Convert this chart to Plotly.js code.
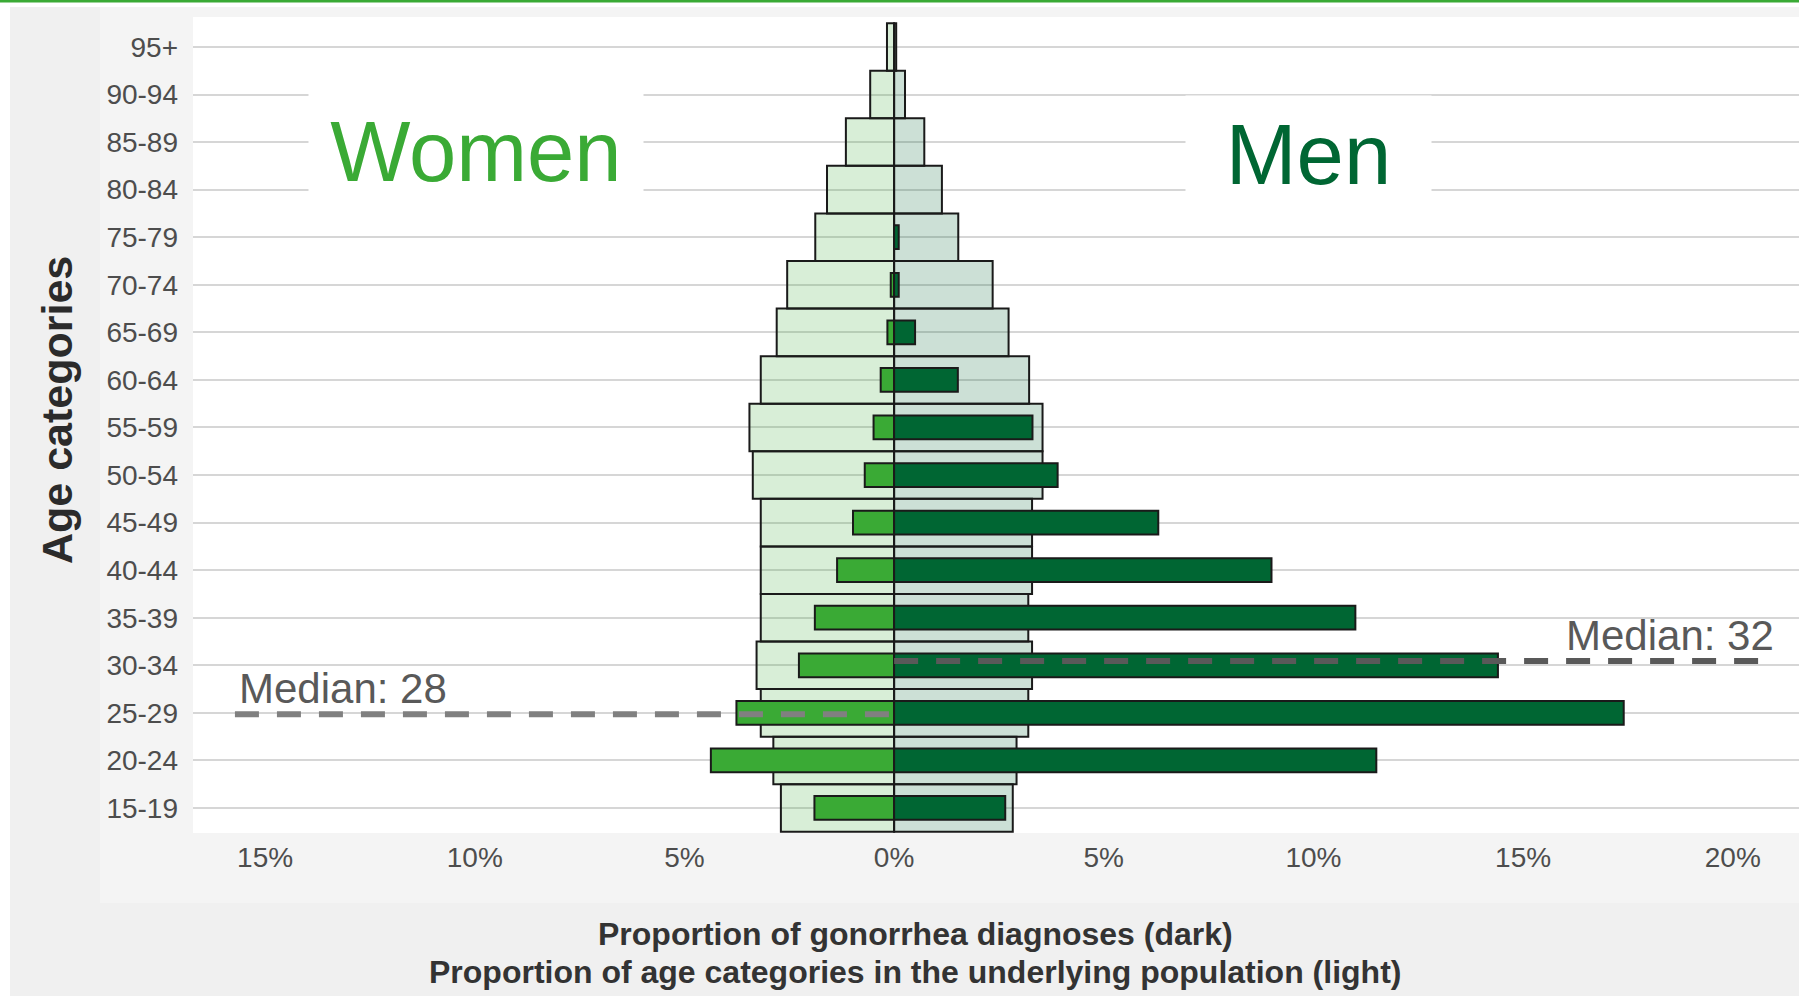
<!DOCTYPE html>
<html>
<head>
<meta charset="utf-8">
<script src="https://cdn.plot.ly/plotly-3.0.1.min.js"></script>
<style>
  html, body { margin: 0; padding: 0; background: #ffffff; }
  #chart { width: 1799px; height: 996px; }
</style>
</head>
<body>
<div id="chart"></div>
<script>
// ---- Data ----
const categories = ['15-19','20-24','25-29','30-34','35-39','40-44','45-49','50-54','55-59','60-64','65-69','70-74','75-79','80-84','85-89','90-94','95+'];
// Proportion of age categories in the underlying population (%), light bars
const popWomen = [2.70, 2.88, 3.18, 3.28, 3.18, 3.18, 3.18, 3.37, 3.45, 3.18, 2.80, 2.55, 1.88, 1.60, 1.15, 0.57, 0.17];
const popMen   = [2.83, 2.92, 3.20, 3.29, 3.20, 3.29, 3.29, 3.54, 3.54, 3.22, 2.73, 2.35, 1.53, 1.14, 0.72, 0.26, 0.05];
// Proportion of gonorrhea diagnoses (%), dark bars
const diagWomen = [1.90, 4.37, 3.76, 2.27, 1.89, 1.36, 0.98, 0.70, 0.49, 0.32, 0.16, 0.08, null, null, null, null, null];
const diagMen   = [2.65, 11.50, 17.40, 14.40, 11.00, 9.00, 6.30, 3.90, 3.30, 1.52, 0.50, 0.11, 0.11, null, null, null, null];
// Median ages
const medianWomen = 28;
const medianMen = 32;
// x tick values and labels
const xTickVals = [-15, -10, -5, 0, 5, 10, 15, 20];
const xTickText = ['15%', '10%', '5%', '0%', '5%', '10%', '15%', '20%'];
// axis title lines
const xTitleLines = ['Proportion of gonorrhea diagnoses (dark)', 'Proportion of age categories in the underlying population (light)'];
const yTitle = 'Age categories';

// ---- Helpers ----
const W = 1799, H = 996;
const ML = 193, MR = 0, MT = 17, MB = 163;
const PW = W - ML - MR, PH = H - MT - MB;
const px = x => (x - ML) / PW;          // page x -> paper x
const py = y => (H - MB - y) / PH;      // page y -> paper y

const idx = categories.map((c, i) => i);
const neg = arr => arr.map(v => (v === null ? null : -v));
const ageIndex = age => categories.findIndex(c => {
  if (c.endsWith('+')) return age >= parseInt(c);
  const [a, b] = c.split('-').map(Number);
  return age >= a && age <= b;
});

const WOMEN = '#3aaa35', MEN = '#006633';
const outline = { color: '#1a1a1a', width: 2 };
const FONT = 'Liberation Sans, Arial, sans-serif';

const traces = [
  { type: 'bar', orientation: 'h', y: idx, x: neg(popWomen), width: 1.0,
    marker: { color: 'rgba(58,170,53,0.2)', line: outline }, hoverinfo: 'skip', showlegend: false },
  { type: 'bar', orientation: 'h', y: idx, x: popMen, width: 1.0,
    marker: { color: 'rgba(0,102,51,0.2)', line: outline }, hoverinfo: 'skip', showlegend: false },
  { type: 'bar', orientation: 'h', y: idx, x: neg(diagWomen), width: 0.5,
    marker: { color: WOMEN, line: outline }, hoverinfo: 'skip', showlegend: false },
  { type: 'bar', orientation: 'h', y: idx, x: diagMen, width: 0.5,
    marker: { color: MEN, line: outline }, hoverinfo: 'skip', showlegend: false }
];

const yW = ageIndex(medianWomen) - 0.03;
const yM = ageIndex(medianMen) + 0.09;

const layout = {
  width: W, height: H,
  margin: { l: ML, r: MR, t: MT, b: MB, pad: 0 },
  paper_bgcolor: '#ffffff',
  plot_bgcolor: 'rgba(0,0,0,0)',
  barmode: 'overlay',
  showlegend: false,
  font: { family: FONT, color: '#4d4d4d' },
  xaxis: {
    range: [-16.72, 21.58],
    tickvals: xTickVals, ticktext: xTickText,
    showgrid: false, zeroline: false, showline: false, ticks: '',
    ticklabelstandoff: 5,
    tickfont: { size: 28, color: '#4d4d4d', family: FONT },
    fixedrange: true
  },
  yaxis: {
    range: [-0.526, 16.63],
    tickvals: idx, ticktext: categories,
    showgrid: true, gridcolor: '#d6d6d6', gridwidth: 2,
    zeroline: false, showline: false, ticks: '',
    ticklabelstandoff: 14,
    tickfont: { size: 28, color: '#4d4d4d', family: FONT },
    fixedrange: true
  },
  shapes: [
    // outer grey panel
    { type: 'rect', xref: 'paper', yref: 'paper', layer: 'below',
      x0: px(10), x1: 1, y0: py(996), y1: py(7), fillcolor: '#f0f0f0', line: { width: 0 } },
    // inner lighter panel
    { type: 'rect', xref: 'paper', yref: 'paper', layer: 'below',
      x0: px(100), x1: 1, y0: py(903), y1: py(7), fillcolor: '#f4f4f4', line: { width: 0 } },
    // plotting area
    { type: 'rect', xref: 'paper', yref: 'paper', layer: 'below',
      x0: 0, x1: 1, y0: 0, y1: 1, fillcolor: '#ffffff', line: { width: 0 } },
    // top green rule
    { type: 'line', xref: 'paper', yref: 'paper', layer: 'above',
      x0: px(0), x1: 1, y0: py(1), y1: py(1), line: { color: WOMEN, width: 3 } },
    // median lines
    { type: 'line', xref: 'x', yref: 'y', layer: 'above',
      x0: -15.72, x1: 0, y0: yW, y1: yW, line: { color: '#808080', width: 6, dash: '24px,18px' } },
    { type: 'line', xref: 'x', yref: 'y', layer: 'above',
      x0: 0, x1: 20.7, y0: yM, y1: yM, line: { color: '#595959', width: 6, dash: '24px,18px' } }
  ],
  annotations: [
    { xref: 'paper', yref: 'paper', x: px(476), y: py(151), xanchor: 'center', yanchor: 'middle',
      width: 332, height: 116, bgcolor: '#ffffff', showarrow: false, valign: 'middle',
      text: 'Women', font: { size: 85, color: WOMEN, family: FONT } },
    { xref: 'paper', yref: 'paper', x: px(1308.5), y: py(154), xanchor: 'center', yanchor: 'middle',
      width: 243, height: 114, bgcolor: '#ffffff', showarrow: false, valign: 'middle',
      text: 'Men', font: { size: 85, color: MEN, family: FONT } },
    { xref: 'x', yref: 'y', x: -15.66, y: ageIndex(medianWomen), xanchor: 'left', yanchor: 'middle',
      yshift: 24, showarrow: false, text: 'Median: ' + medianWomen,
      font: { size: 42, color: '#595959', family: FONT } },
    { xref: 'x', yref: 'y', x: 21.02, y: ageIndex(medianMen), xanchor: 'right', yanchor: 'middle',
      yshift: 30, showarrow: false, text: 'Median: ' + medianMen,
      font: { size: 42, color: '#595959', family: FONT } },
    { xref: 'paper', yref: 'paper', x: px(57), y: py(410), xanchor: 'center', yanchor: 'middle',
      textangle: -90, showarrow: false, text: '<b>' + yTitle + '</b>',
      font: { size: 43, color: '#2b2b2b', family: FONT } },
    { xref: 'paper', yref: 'paper', x: px(915), y: py(934), xanchor: 'center', yanchor: 'middle',
      showarrow: false, text: '<b>' + xTitleLines[0] + '</b>',
      font: { size: 32, color: '#333333', family: FONT } },
    { xref: 'paper', yref: 'paper', x: px(915), y: py(972), xanchor: 'center', yanchor: 'middle',
      showarrow: false, text: '<b>' + xTitleLines[1] + '</b>',
      font: { size: 32, color: '#333333', family: FONT } }
  ]
};

Plotly.newPlot('chart', traces, layout, { displayModeBar: false, staticPlot: true });
</script>
</body>
</html>
